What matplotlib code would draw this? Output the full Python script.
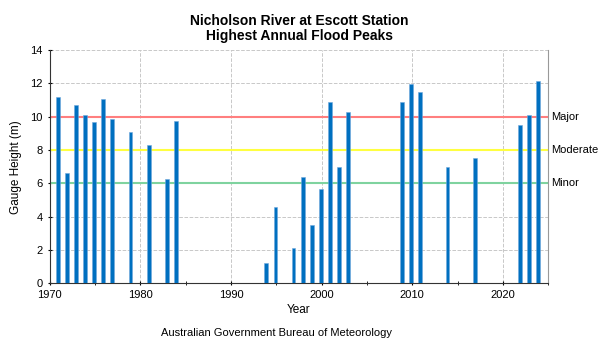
import matplotlib
matplotlib.use("Agg")
import matplotlib.pyplot as plt
from matplotlib.ticker import MultipleLocator

plt.rcParams["font.family"] = ["Liberation Sans", "DejaVu Sans"]

# Highest annual flood peaks (gauge height, m)
years = [1971, 1972, 1973, 1974, 1975, 1976, 1977, 1979, 1981, 1983, 1984,
         1994, 1995, 1997, 1998, 1999, 2000, 2001, 2002, 2003,
         2009, 2010, 2011, 2014, 2017, 2022, 2023, 2024]
peaks = [11.16, 6.6, 10.72, 10.12, 9.66, 11.04, 9.88, 9.06, 8.28, 6.24, 9.72,
         1.24, 4.59, 2.09, 6.38, 3.49, 5.65, 10.87, 6.96, 10.31,
         10.9, 11.96, 11.46, 6.98, 7.5, 9.48, 10.12, 12.16]

# Flood classification levels
levels = ["Major", "Moderate", "Minor"]
level_heights = [10, 8, 6]
level_colors = ["#ff7f7f", "#ffff40", "#7fd39f"]

fig = plt.figure(figsize=(6.01, 3.48), dpi=100)
ax = fig.add_axes([0.083, 0.186, 0.829, 0.670])

for name, h, c in zip(levels, level_heights, level_colors):
    ax.axhline(h, color=c, linewidth=1.5, zorder=2)
    ax.text(1.006, h, name, transform=ax.get_yaxis_transform(),
            va="center", ha="left", fontsize=8, color="black")

ax.bar([y - 0.1 for y in years], peaks, width=0.42, color="#0070c0",
       edgecolor="#6fa8dc", linewidth=0.4, zorder=3)

ax.set_xlim(1970, 2025)
ax.set_ylim(0, 14)
ax.xaxis.set_major_locator(MultipleLocator(10))
ax.xaxis.set_minor_locator(MultipleLocator(5))
ax.yaxis.set_major_locator(MultipleLocator(2))
ax.tick_params(labelsize=8, length=3, direction="inout")
ax.tick_params(which="minor", length=3, direction="inout")
ax.grid(True, color="#c8c8c8", linestyle="--", linewidth=0.7, zorder=0)
ax.set_axisbelow(True)

ax.spines["top"].set_visible(False)
ax.spines["right"].set_color("#999999")
ax.spines["left"].set_color("#333333")
ax.spines["bottom"].set_color("#333333")

ax.set_xlabel("Year", fontsize=8.5, labelpad=3)
ax.set_ylabel("Gauge Height (m)", fontsize=8.5, labelpad=6)

fig.text(0.498, 0.917, "Nicholson River at Escott Station\nHighest Annual Flood Peaks",
         ha="center", va="center", fontsize=10, fontweight="bold", linespacing=1.1)
fig.text(0.46, 0.042, "Australian Government Bureau of Meteorology",
         ha="center", va="center", fontsize=8)

fig.savefig("out.png", dpi=100, facecolor="white")
